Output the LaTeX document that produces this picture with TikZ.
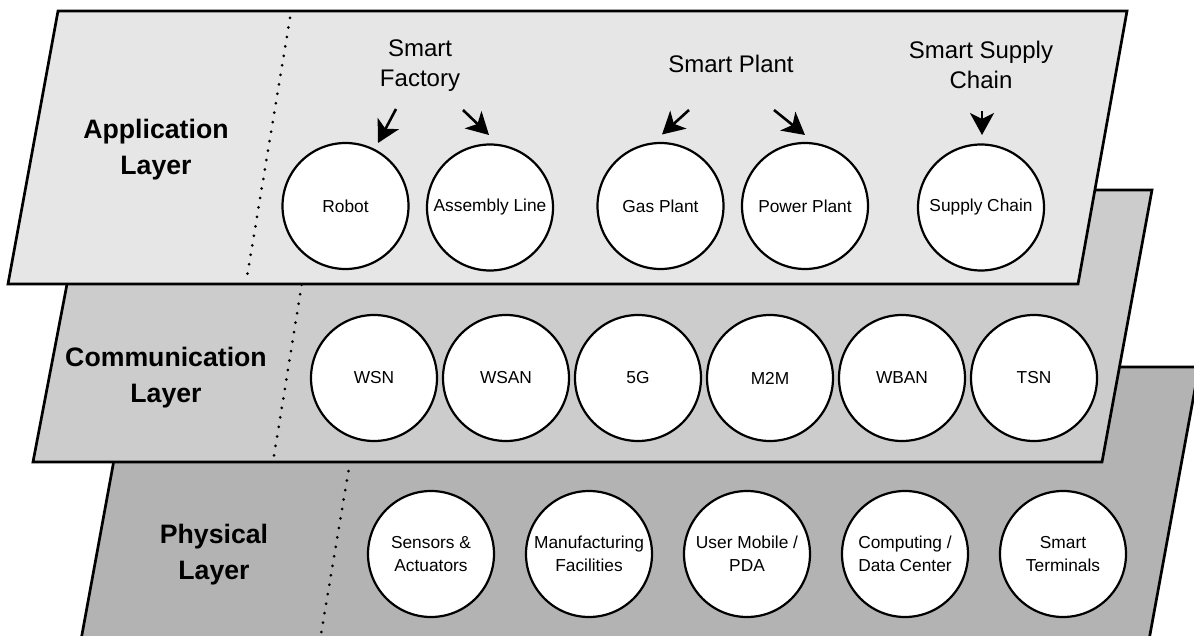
\documentclass[tikz,border=0pt]{standalone}
\usepackage{fontspec}
\setmainfont{Liberation Sans}
\usetikzlibrary{arrows.meta}

\definecolor{appfill}{HTML}{E6E6E6}
\definecolor{comfill}{HTML}{CCCCCC}
\definecolor{phyfill}{HTML}{B3B3B3}

\tikzset{
  layerbox/.style={draw=black, line width=2.7pt, line join=miter},
  divider/.style={line width=3pt, line cap=round, dash pattern=on 0pt off 9.6pt},
  unit/.style={circle, draw=black, fill=white, line width=2.2pt, minimum size=126pt,
    inner sep=0pt, align=center, font=\fontsize{17.33}{22.7}\selectfont},
  layername/.style={align=center, font=\fontsize{26.67}{36}\selectfont\bfseries},
  domaintext/.style={align=center, font=\fontsize{24}{30.5}\selectfont},
  pointer/.style={line width=2.6pt, -{Stealth[length=22pt,width=24pt,inset=6pt]}}
}

\begin{document}
\begin{tikzpicture}[x=1pt,y=-1pt]
\useasboundingbox (0,0) rectangle (1194,636);
\clip (0,0) rectangle (1194,636);

% ---- physical layer (bottom of the stack)
\draw[layerbox, fill=phyfill] (131,367) -- (1199,367) -- (1149,640) -- (81,640) -- cycle;
\draw[divider] (366,367) -- (320,640);
\node[layername] (phyname) at (214,555) {Physical\\Layer};
\node[unit] (sensors)  at (431,554) {Sensors \&\\Actuators};
\node[unit] (manuf)    at (589,554) {Manufacturing\\Facilities};
\node[unit] (mobile)   at (747,554) {User Mobile /\\PDA};
\node[unit] (computing) at (905,554) {Computing /\\Data Center};
\node[unit] (terminals) at (1063,554) {Smart\\Terminals};

% ---- communication layer
\draw[layerbox, fill=comfill] (85,190) -- (1152,190) -- (1102,462) -- (33,462) -- cycle;
\draw[divider] (317,190) -- (273,462);
\node[layername] (comname) at (166,378) {Communication\\Layer};
\node[unit] (wsn)  at (374,378) {WSN};
\node[unit] (wsan) at (506,378) {WSAN};
\node[unit] (fiveg) at (638,378) {5G};
\node[unit] (mtm)  at (770,378) {M2M};
\node[unit] (wban) at (902,378) {WBAN};
\node[unit] (tsn)  at (1034,378) {TSN};

% ---- application layer (top of the stack)
\draw[layerbox, fill=appfill] (58,11) -- (1127,11) -- (1078,284) -- (8,284) -- cycle;
\draw[divider] (290,18) -- (246,283);
\node[layername] (appname) at (156,150) {Application\\Layer};
\node[unit] (robot)    at (345.5,206) {Robot};
\node[unit] (assembly) at (490,207.5) {Assembly Line};
\node[unit] (gas)      at (660.5,206) {Gas Plant};
\node[unit] (power)    at (805,206) {Power Plant};
\node[unit] (supply)   at (981,207.5) {Supply Chain};

% application domains
\node[domaintext] (factory) at (420,65.5) {Smart\\Factory};
\node[domaintext] (plant)   at (731,64) {Smart Plant};
\node[domaintext] (chain)   at (981,65) {Smart Supply\\Chain};

% pointers from each domain down to its units
\coordinate (robotFrom) at (396,109);   \coordinate (robotTo) at (378,143);
\coordinate (asmFrom)   at (463,110);   \coordinate (asmTo)   at (489,135);
\coordinate (gasFrom)   at (689,110);   \coordinate (gasTo)   at (662,134.5);
\coordinate (powFrom)   at (774,110);   \coordinate (powTo)   at (805,135);
\coordinate (supFrom)   at (982,111);   \coordinate (supTo)   at (982,135);
\draw[pointer] (robotFrom) -- (robotTo);
\draw[pointer] (asmFrom) -- (asmTo);
\draw[pointer] (gasFrom) -- (gasTo);
\draw[pointer] (powFrom) -- (powTo);
\draw[pointer] (supFrom) -- (supTo);
\end{tikzpicture}
\end{document}
